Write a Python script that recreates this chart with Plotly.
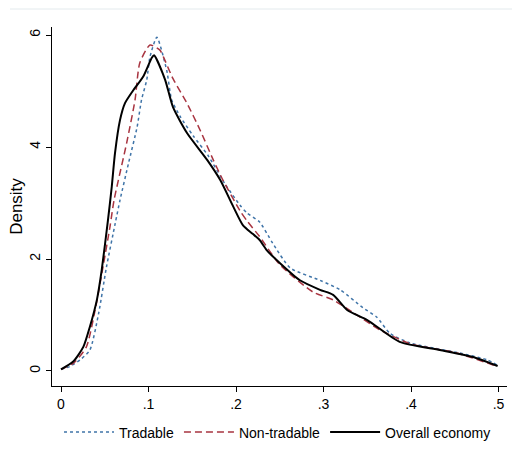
import plotly.graph_objects as go

# Overall economy (black solid)
overall_x = [0, .014, .0255, .033, .041, .0465, .0537, .058, .0617, .0674, .073, .082, .094, .1036, .1063, .119, .128, .144,
             .167, .182, .197, .208, .219, .227, .235, .25, .273, .296, .311, .327, .35, .387, .433, .471, .499]
overall_y = [.03, .17, .43, .79, 1.27, 1.8, 2.7, 3.29, 3.89, 4.48, 4.78, 5.0, 5.26, 5.59, 5.64, 5.2, 4.71, 4.25,
             3.77, 3.41, 2.93, 2.6, 2.45, 2.34, 2.16, 1.93, 1.62, 1.45, 1.36, 1.09, .91, .52, .375, .25, .09]

# Tradable (blue dotted)
trad_x = [0, .010, .022, .033, .043, .052, .062, .0674, .077, .087, .092, .098, .1017, .1095, .1208, .1265,
          .136, .151, .168, .187, .2046, .2126, .227, .242, .262, .296, .319, .345, .361, .376, .399, .456, .487, .499]
trad_y = [.03, .08, .2, .375, 1.03, 1.86, 2.64, 3.05, 3.7, 4.36, 4.84, 5.2, 5.61, 5.96, 5.37, 4.84,
          4.55, 4.2, 3.85, 3.35, 2.96, 2.82, 2.66, 2.28, 1.84, 1.62, 1.45, 1.13, .96, .67, .5, .32, .2, .1]

# Non-tradable (red dashed)
nontrad_x = [0, .015, .029, .039, .048, .056, .0606, .075, .0846, .090, .1017, .113, .117, .128, .144,
             .159, .174, .185, .205, .2126, .227, .25, .288, .311, .334, .365, .40, .45, .499]
nontrad_y = [.03, .15, .43, 1.09, 1.86, 2.58, 3.05, 4.07, 4.84, 5.5, 5.82, 5.73, 5.61, 5.22, 4.78,
             4.3, 3.77, 3.41, 2.85, 2.68, 2.4, 1.9, 1.41, 1.27, 1.04, .73, .48, .33, .08]

x_ticks = [0, .1, .2, .3, .4, .5]
x_labels = ["0", ".1", ".2", ".3", ".4", ".5"]
y_ticks = [0, 2, 4, 6]

FONT = "Liberation Sans, Arial, sans-serif"

fig = go.Figure()
fig.add_trace(go.Scatter(x=trad_x, y=trad_y, mode="lines", name="Tradable",
                         line=dict(color="#3f74a8", width=1.5, dash="dot", shape="spline", smoothing=0.6)))
fig.add_trace(go.Scatter(x=nontrad_x, y=nontrad_y, mode="lines", name="Non-tradable",
                         line=dict(color="#a83440", width=1.5, dash="7px,4px", shape="spline", smoothing=0.6)))
fig.add_trace(go.Scatter(x=overall_x, y=overall_y, mode="lines", name="Overall economy",
                         line=dict(color="black", width=2, shape="spline", smoothing=0.6)))

fig.update_layout(
    width=512, height=449,
    margin=dict(l=52, r=5, t=27, b=63, autoexpand=False),
    paper_bgcolor="white", plot_bgcolor="white",
    font=dict(family=FONT, size=14, color="black"),
    showlegend=True,
    legend=dict(orientation="h", x=0.542, xanchor="center", xref="container",
                y=0.0724, yanchor="top", yref="container",
                font=dict(size=14), itemwidth=50, tracegroupgap=0),
    xaxis=dict(range=[-0.0103, 0.5097], tickvals=x_ticks, ticktext=x_labels,
               showline=True, linecolor="black", linewidth=1, ticks="outside", ticklen=5,
               tickcolor="black", showgrid=False, zeroline=False),
    yaxis=dict(range=[-0.268, 6.143], tickvals=y_ticks, tickangle=-90,
               showline=True, linecolor="black", linewidth=1, ticks="outside", ticklen=5,
               tickcolor="black", showgrid=False, zeroline=False,
               title=dict(text="Density", standoff=0)),
    shapes=[dict(type="line", xref="paper", yref="paper", x0=-0.0923, x1=1.011,
                 y0=1 + 18 / 359, y1=1 + 18 / 359, line=dict(color="#e3eaed", width=1))],
)

fig.write_html("out.html")
